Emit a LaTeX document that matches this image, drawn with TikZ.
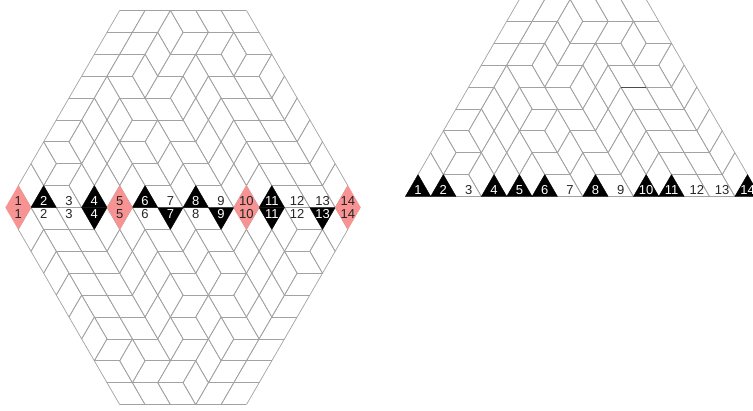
\documentclass[tikz,border=0pt]{standalone}
\usepackage{fontspec}
\setmainfont{Liberation Sans}
\definecolor{edgegray}{HTML}{A2A2A2}
\definecolor{rosefill}{HTML}{F79393}
\tikzset{
  edgeline/.style={draw=edgegray,line width=0.7bp,line join=round},
  darkedge/.style={draw=black!70,line width=0.9bp},
  blackcell/.style={fill=black,draw=black,line width=0.3bp},
  pinkcell/.style={fill=rosefill,draw=rosefill,line width=0.3bp},
  numlabel/.style={font=\fontsize{13bp}{14bp}\selectfont,inner sep=0pt,text=black!85},
  numwhite/.style={numlabel,text=white},
  cellgrid/.style={x=12.675bp,y=-21.9bp}
}
\newcommand{\chainup}[1]{%
  \foreach \j [count=\k from 0, remember=\j as \p (initially 0)] in {#1} {
    \draw[edgeline] ({2*(\j-1)-\k},\k) -- ({2*\j-\k},\k);
    \ifnum\k>0
      \draw[edgeline] ({2*(\p-1)-\k+1},\k-1) -- ({2*(\j-1)-\k},\k);
      \draw[edgeline] ({2*\p-\k+1},\k-1) -- ({2*\j-\k},\k);
    \fi
  }}
\newcommand{\chaindown}[1]{%
  \foreach \j [count=\k from 0, remember=\j as \p (initially 0)] in {#1} {
    \draw[edgeline] ({2*(\j-1)-9+\k},9+\k) -- ({2*\j-9+\k},9+\k);
    \ifnum\k>0
      \draw[edgeline] ({2*(\p-1)-9+\k-1},9+\k-1) -- ({2*(\j-1)-9+\k},9+\k);
      \draw[edgeline] ({2*\p-9+\k-1},9+\k-1) -- ({2*\j-9+\k},9+\k);
    \fi
  }}
\newcommand{\diamonds}[3]{%
  \foreach \j in {#3} {
    \draw[edgeline] ({#1+2*\j-1},#2-1) -- ({#1+2*\j},#2) -- ({#1+2*\j-1},#2+1) -- ({#1+2*\j-2},#2) -- cycle;
  }}
\newcommand{\uppertiling}{%
  \chainup{1,1,1,1,1,1,1,2,2,3}
  \chainup{2,2,2,2,3,4,4,5,6,7}
  \chainup{3,4,4,4,4,5,6,7,8,9}
  \chainup{4,5,5,6,7,8,9,10,11,12}
  \chainup{5,6,7,7,8,9,10,11,12,13}
  \diamonds{-1}{1}{3}
  \diamonds{-2}{2}{3,6}
  \diamonds{-3}{3}{3,5,8}
  \diamonds{-4}{4}{2,5,6,9}
  \diamonds{-5}{5}{2,3,6,7,10}
  \diamonds{-6}{6}{2,3,5,7,8,11}
  \diamonds{-7}{7}{1,3,4,6,8,9,12}
  \diamonds{-8}{8}{1,3,4,5,7,9,10,13}
}
\begin{document}
\begin{tikzpicture}[x=1bp,y=-1bp]
\useasboundingbox (0,0) rectangle (753,410);
\clip (0,0) rectangle (753,410);
% ---------- hexagon ----------
\begin{scope}[shift={(119.7,10.4)},cellgrid]
  \uppertiling
  \chaindown{2,2,2,2,2,2,2,1,1,1}
  \chaindown{3,3,3,3,3,3,3,3,2,2}
  \chaindown{6,6,6,6,6,5,5,4,3,3}
  \chaindown{8,8,8,8,7,7,7,6,5,4}
  \chaindown{12,12,11,11,10,9,8,7,6,5}
  \diamonds{-8}{10}{1,4,5,7,9,10,11,13}
  \diamonds{-7}{11}{1,4,5,7,9,10,12}
  \diamonds{-6}{12}{1,4,5,7,9,10}
  \diamonds{-5}{13}{1,4,5,8,9}
  \diamonds{-4}{14}{1,4,6,8}
  \diamonds{-3}{15}{1,4,6}
  \diamonds{-2}{16}{2,5}
  \diamonds{-1}{17}{4}
  \foreach \j in {2,4,6,8,11}
    \fill[blackcell] ({2*\j-10},8) -- ({2*\j-9},9) -- ({2*\j-11},9) -- cycle;
  \foreach \j in {4,7,9,11,13}
    \fill[blackcell] ({2*\j-10},10) -- ({2*\j-9},9) -- ({2*\j-11},9) -- cycle;
  \foreach \j in {1,5,10,14}
    \fill[pinkcell] ({2*\j-10},8) -- ({2*\j-9},9) -- ({2*\j-10},10) -- ({2*\j-11},9) -- cycle;
  \foreach \j in {1,3,5,7,9,10,12,13,14}
    \node[numlabel] (hu\j) at ({2*\j-10},8.69) {\j};
  \foreach \j in {2,4,6,8,11}
    \node[numwhite] (hu\j) at ({2*\j-10},8.69) {\j};
  \foreach \j in {1,2,3,5,6,8,10,12,14}
    \node[numlabel] (hl\j) at ({2*\j-10},9.31) {\j};
  \foreach \j in {4,7,9,11,13}
    \node[numwhite] (hl\j) at ({2*\j-10},9.31) {\j};
\end{scope}
% ---------- trapezoid ----------
\begin{scope}[shift={(519.4,-0.6)},cellgrid]
  \uppertiling
  \draw[darkedge] (8,4) -- (10,4);
  \foreach \j in {1,2,4,5,6,8,10,11,14} {
    \fill[blackcell] ({2*\j-10},8) -- ({2*\j-9},9) -- ({2*\j-11},9) -- cycle;
    \node[numwhite] (tu\j) at ({2*\j-10},8.7) {\j};
  }
  \foreach \j in {3,7,9,12,13}
    \node[numlabel] (tl\j) at ({2*\j-10},8.7) {\j};
\end{scope}
\end{tikzpicture}
\end{document}
